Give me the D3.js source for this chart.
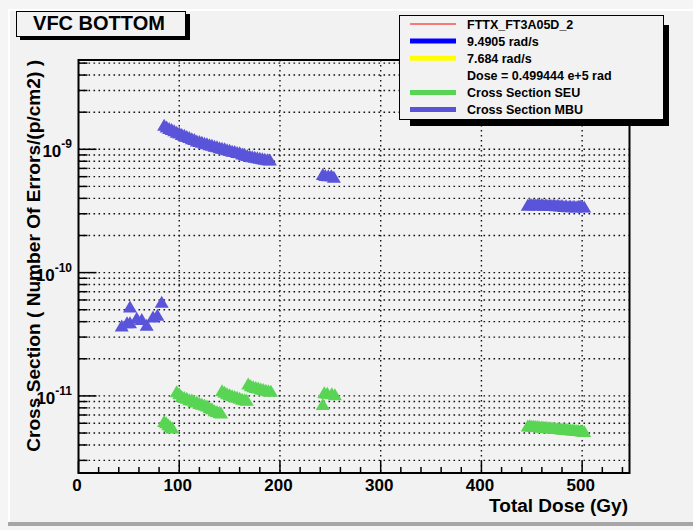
<!DOCTYPE html>
<html><head><meta charset="utf-8">
<script src="https://cdn.jsdelivr.net/npm/d3@7/dist/d3.min.js"></script>
<style>
html,body{margin:0;padding:0;background:#f5f5f5;}
svg{display:block;font-family:"Liberation Sans",Arial,Helvetica,sans-serif;font-weight:bold;}
</style></head>
<body>
<svg id="c" width="693" height="530"></svg>
<script>
// ---------- data ----------
const chartTitle = "VFC BOTTOM";
const xTitle = "Total Dose (Gy)";
const yTitle = "Cross Section ( Number Of Errors/(p/cm2) )";
const xDomain = [0, 547];
const yDomain = [2.37e-12, 5.3e-9];
const xMajorTicks = [0, 100, 200, 300, 400, 500];
const yDecadeExp = [-11, -10, -9];

// MBU cross section (dose in Gy, cross section)
const mbuDose = [42.9, 48.2, 51.1, 51.1, 57.8, 62.8, 67.7, 74, 78.3, 82.6,
  85, 87.5, 90, 92.5, 95, 97.5, 100, 102.5, 105, 107.5, 110, 112.5, 115, 117.5, 120,
  122.5, 125, 127.5, 130, 132.5, 135, 137.5, 140, 142.5, 145, 147.5, 150, 152.5, 155,
  157.5, 160, 162.5, 165, 167.5, 170, 172.5, 175, 177.5, 180, 182.5, 185, 187.5, 190,
  242.5, 245, 248, 251, 253.5,
  446, 448, 450, 452, 454, 456, 458, 460, 462, 464, 466, 468, 470, 472, 474, 476, 478,
  480, 482, 484, 486, 488, 490, 492, 494, 496, 498, 500, 502];
const mbuXS = [3.73e-11, 3.95e-11, 5.3e-11, 3.95e-11, 4.31e-11, 4.2e-11, 3.78e-11, 4.4e-11, 4.56e-11, 5.81e-11,
  1.58e-9, 1.53e-9, 1.49e-9, 1.46e-9, 1.43e-9, 1.39e-9, 1.37e-9, 1.33e-9, 1.31e-9, 1.28e-9, 1.26e-9,
  1.23e-9, 1.21e-9, 1.18e-9, 1.17e-9, 1.15e-9, 1.13e-9, 1.12e-9, 1.10e-9, 1.09e-9, 1.07e-9, 1.06e-9,
  1.04e-9, 1.03e-9, 1.02e-9, 1.00e-9, 0.99e-9, 0.975e-9, 0.97e-9, 0.95e-9, 0.945e-9, 0.925e-9, 0.91e-9,
  0.90e-9, 0.885e-9, 0.88e-9, 0.87e-9, 0.862e-9, 0.855e-9, 0.845e-9, 0.84e-9, 0.832e-9, 0.825e-9,
  6.3e-10, 6.2e-10, 6.15e-10, 6.15e-10, 6.0e-10,
  3.55e-10, 3.62e-10, 3.58e-10, 3.6e-10, 3.57e-10, 3.61e-10, 3.56e-10, 3.6e-10, 3.55e-10, 3.58e-10,
  3.54e-10, 3.57e-10, 3.53e-10, 3.56e-10, 3.52e-10, 3.55e-10, 3.5e-10, 3.53e-10, 3.47e-10, 3.52e-10,
  3.46e-10, 3.5e-10, 3.45e-10, 3.49e-10, 3.44e-10, 3.48e-10, 3.5e-10, 3.46e-10, 3.44e-10];

// SEU cross section
const seuDose = [85, 87, 89, 91, 93,
  97.5, 100, 102.5, 105, 107.5, 110, 112.5, 115, 117.5, 120, 122.5, 125, 127.5, 130, 132.5, 135, 137.5, 140, 141.5,
  142.5, 145, 147.5, 150, 152.5, 155, 157.5, 160, 162.5, 165, 167,
  168.5, 171, 173.5, 176, 178.5, 181, 183.5, 186, 188.5, 191,
  242.5, 244, 247, 251.5, 254.5,
  446, 448, 450, 452, 454, 456, 458, 460, 462, 464, 466, 468, 470, 472, 474, 476, 478,
  480, 482, 484, 486, 488, 490, 492, 494, 496, 498, 500, 502];
const seuXS = [6.25e-12, 6.1e-12, 5.9e-12, 5.7e-12, 5.55e-12,
  1.09e-11, 1.05e-11, 1.0e-11, 0.98e-11, 0.965e-11, 0.94e-11, 0.935e-11, 0.91e-11, 0.9e-11, 0.88e-11,
  0.865e-11, 0.85e-11, 0.835e-11, 0.81e-11, 0.795e-11, 0.765e-11, 0.755e-11, 0.74e-11, 0.735e-11,
  1.11e-11, 1.08e-11, 1.05e-11, 1.03e-11, 1.01e-11, 1.0e-11, 0.985e-11, 0.965e-11, 0.95e-11, 0.94e-11, 0.93e-11,
  1.26e-11, 1.22e-11, 1.2e-11, 1.18e-11, 1.17e-11, 1.15e-11, 1.14e-11, 1.12e-11, 1.11e-11, 1.10e-11,
  8.6e-12, 1.07e-11, 1.06e-11, 1.05e-11, 1.03e-11,
  5.75e-12, 5.78e-12, 5.74e-12, 5.72e-12, 5.7e-12, 5.69e-12, 5.66e-12, 5.65e-12, 5.62e-12, 5.61e-12,
  5.58e-12, 5.57e-12, 5.54e-12, 5.52e-12, 5.5e-12, 5.49e-12, 5.46e-12, 5.44e-12, 5.42e-12, 5.41e-12,
  5.38e-12, 5.36e-12, 5.34e-12, 5.33e-12, 5.3e-12, 5.28e-12, 5.26e-12, 5.24e-12, 5.2e-12];

const legendLabels = ["FTTX_FT3A05D_2", "9.4905 rad/s", "7.684 rad/s", "Dose = 0.499444 e+5 rad", "Cross Section SEU", "Cross Section MBU"];
const legendColors = ["#ff0000", "#0000ff", "#ffff00", null, "#59d454", "#5954d9"];
const legendWidths = [1.2, 5, 5, 0, 5, 5];
const seuColor = "#59d454", mbuColor = "#5954d9";

// ---------- drawing ----------
const svg = d3.select("#c");
const padBg = "#f2f2f2";
// pad with bevel
svg.append("rect").attr("x", 8).attr("y", 9).attr("width", 685).attr("height", 514).attr("fill", padBg);
svg.append("line").attr("x1", 8).attr("x2", 693).attr("y1", 10).attr("y2", 10).attr("stroke", "#ffffff").attr("stroke-width", 2);
svg.append("line").attr("x1", 9).attr("x2", 9).attr("y1", 9).attr("y2", 523).attr("stroke", "#ffffff").attr("stroke-width", 2);
svg.append("rect").attr("x", 8).attr("y", 522).attr("width", 685).attr("height", 4).attr("fill", "#a6a6a6");

const L = 78.5, R = 629.5, T = 60, B = 473;
const x = d3.scaleLinear().domain(xDomain).range([L, R]);
const y = d3.scaleLog().domain(yDomain).range([B, T]);

const grid = svg.append("g").attr("stroke", "#111").attr("stroke-width", 1.4).attr("stroke-dasharray", "1.6,3.4").attr("fill", "none");
const yTicks = y.ticks();
grid.selectAll("line.h").data(yTicks).join("line")
  .attr("x1", L).attr("x2", R).attr("y1", d => y(d)).attr("y2", d => y(d));
grid.selectAll("line.v").data(xMajorTicks.filter(d => d > 0)).join("line").attr("class", "v")
  .attr("x1", d => x(d)).attr("x2", d => x(d)).attr("y1", T).attr("y2", B);

// markers
function tri(cx, cy) { return `M${cx - 7},${cy + 6}L${cx + 7},${cy + 6}L${cx},${cy - 6}Z`; }
svg.append("g").selectAll("path").data(d3.range(seuDose.length)).join("path")
  .attr("d", i => tri(x(seuDose[i]), y(seuXS[i]))).attr("fill", seuColor);
svg.append("g").selectAll("path").data(d3.range(mbuDose.length)).join("path")
  .attr("d", i => tri(x(mbuDose[i]), y(mbuXS[i]))).attr("fill", mbuColor);

// frame
svg.append("rect").attr("x", L).attr("y", T).attr("width", R - L).attr("height", B - T)
  .attr("fill", "none").attr("stroke", "#000").attr("stroke-width", 2);

// y ticks
const isDecade = d => Math.abs(Math.log10(d) - Math.round(Math.log10(d))) < 1e-6;
svg.append("g").attr("stroke", "#000").attr("stroke-width", 1.5).selectAll("line").data(yTicks).join("line")
  .attr("x1", L).attr("x2", d => L + (isDecade(d) ? 18 : 9)).attr("y1", d => y(d)).attr("y2", d => y(d));
// x ticks
const xMinor = d3.range(0, xDomain[1] + 1, 20);
svg.append("g").attr("stroke", "#000").attr("stroke-width", 1.5).selectAll("line").data(xMinor).join("line")
  .attr("x1", d => x(d)).attr("x2", d => x(d)).attr("y1", B).attr("y2", d => B - (d % 100 === 0 ? 12 : 6));

// x labels
svg.append("g").selectAll("text").data(xMajorTicks).join("text")
  .attr("x", d => x(d) - 1.5).attr("y", 491).attr("text-anchor", "middle").attr("font-size", 17).text(d => d);
// y labels
const yl = svg.append("g").selectAll("text").data(yDecadeExp).join("text")
  .attr("x", 72).attr("y", d => y(Math.pow(10, d)) + 8).attr("text-anchor", "end").attr("font-size", 17);
yl.append("tspan").text("10");
yl.append("tspan").attr("font-size", 12).attr("dy", -9).text(d => "-" + Math.abs(d));

// axis titles
const xt = svg.append("text").attr("x", 628).attr("y", 512).attr("text-anchor", "end").attr("font-size", 17).text(xTitle);
const xtLen = xt.node().getComputedTextLength();
xt.attr("font-size", 17 * 139 / xtLen);
const yt = svg.append("text").attr("transform", "translate(40,60) rotate(-90)").attr("text-anchor", "end").attr("font-size", 17).text(yTitle);
const ytLen = yt.node().getComputedTextLength();
yt.attr("font-size", 17 * 392 / ytLen);

// title box
svg.append("rect").attr("x", 20).attr("y", 14).attr("width", 170).attr("height", 26).attr("fill", "#000");
svg.append("rect").attr("x", 16.5).attr("y", 11.5).attr("width", 169).attr("height", 25).attr("fill", padBg).attr("stroke", "#000").attr("stroke-width", 1);
svg.append("text").attr("x", 99).attr("y", 30).attr("text-anchor", "middle").attr("font-size", 20).text(chartTitle);

// legend
svg.append("rect").attr("x", 410).attr("y", 25).attr("width", 259).attr("height", 101).attr("fill", "#000");
svg.append("rect").attr("x", 399.5).attr("y", 15.5).attr("width", 264).attr("height", 104).attr("fill", padBg).attr("stroke", "#000").attr("stroke-width", 1);
const lg = svg.append("g");
legendLabels.forEach((lab, i) => {
  const by = 28.5 + i * 17.1;
  if (legendColors[i]) {
    lg.append("line").attr("x1", 410).attr("x2", 456).attr("y1", by - 4.5).attr("y2", by - 4.5)
      .attr("stroke", legendColors[i]).attr("stroke-width", legendWidths[i]);
  }
  lg.append("text").attr("x", 467).attr("y", by).attr("font-size", 12.5).text(lab);
});
</script>
</body></html>
